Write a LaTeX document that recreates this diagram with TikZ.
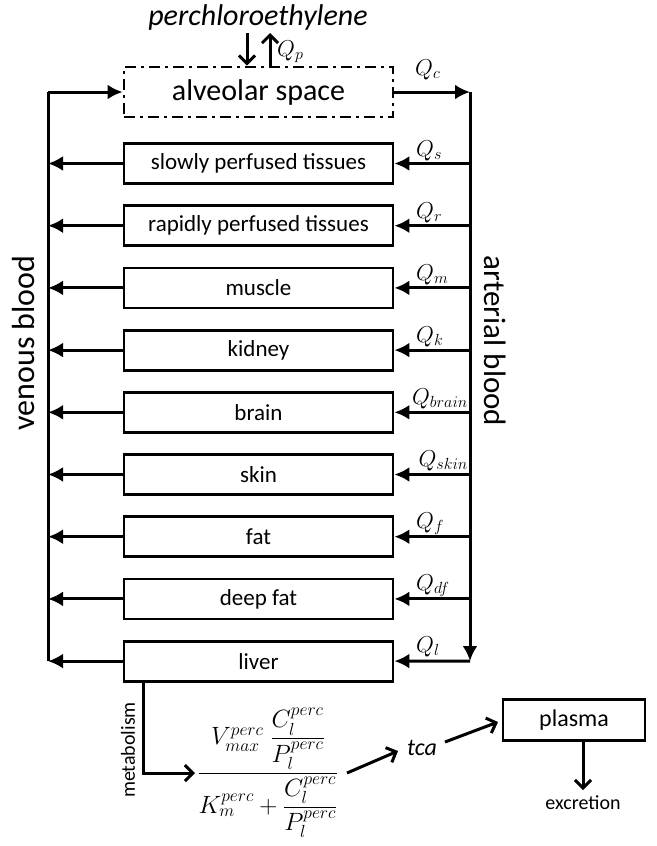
\RequirePackage{fix-cm}
\documentclass[tikz,border=0pt]{standalone}
\usepackage{amsmath}
\usepackage{fontspec}
\setmainfont{Carlito}
\usetikzlibrary{arrows.meta}
\begin{document}
\begin{tikzpicture}[x=1pt,y=-1pt,
  tissue/.style={draw, line width=2.8pt, minimum width=269pt, minimum height=40pt, inner sep=0pt, font=\fontsize{23}{26}\selectfont},
  flow/.style={line width=3pt, -{Latex[length=15pt,width=15pt]}},
  plain/.style={line width=3pt},
  openarr/.style={line width=3pt, -{Straight Barb[length=8pt,width=16pt,line width=3pt]}},
  qlab/.style={font=\fontsize{23}{25}\selectfont, anchor=base west, inner sep=0pt}]
\useasboundingbox (0,0) rectangle (656,846);

% alveolar space
\node[tissue, minimum height=50pt, dash pattern=on 11pt off 5pt on 3pt off 5pt, font=\fontsize{30}{34}\selectfont] (alv) at (258.5,92) {alveolar space};
\node[font=\fontsize{30}{34}\selectfont\itshape, inner sep=0pt] (perc) at (258,18) {perchloroethylene};
\coordinate (pin) at (247,33);
\coordinate (pout) at (270,33);
\draw[openarr] (pin) -- (pin |- alv.north);
\draw[openarr] (pout |- alv.north) -- (pout);
\node[qlab] (qp) at (277,56) {$Q_p$};

% blood lines
\coordinate (vtop) at (48,92);
\coordinate (vbot) at (48,661);
\coordinate (atop) at (470,92);
\coordinate (abot) at (470,661);
\draw[plain] (vbot) -- (vtop);
\draw[flow] (vtop) -- (alv.west);
\draw[flow] (alv.east) -- (atop);
\draw[flow] (atop) -- (abot);
\node[qlab] (qc) at (415,75) {$Q_c$};

\node[rotate=90, font=\fontsize{32}{36}\selectfont, inner sep=0pt] (ven) at (24,343) {venous blood};
\node[rotate=-90, font=\fontsize{31}{36}\selectfont, inner sep=0pt] (art) at (495,341) {arterial blood};

% tissues
\foreach \nm/\txt/\i in {slow/slowly perfused tissues/0, rapid/rapidly perfused tissues/1, muscle/muscle/2, kidney/kidney/3, brain/brain/4, skin/skin/5, fat/fat/6, deepfat/deep fat/7, liver/liver/8}{
  \node[tissue] (\nm) at (258.5,163.5+62.2*\i) {\txt};
  \draw[flow] (\nm.west) -- (\nm.west -| vtop);
}
\foreach \nm in {slow,rapid,muscle,kidney,brain,skin,fat,deepfat}{
  \draw[flow] (\nm.east -| atop) -- (\nm.east);
}
\draw[flow] (abot) -- (liver.east);

\node[qlab] (qs) at (416,156) {$Q_s$};
\node[qlab] (qr) at (416,218) {$Q_r$};
\node[qlab] (qm) at (416,280) {$Q_m$};
\node[qlab] (qk) at (416,342) {$Q_k$};
\node[qlab, anchor=base east] (qb) at (468,404) {$Q_{brain}$};
\node[qlab, anchor=base east] (qsk) at (468,466) {$Q_{skin}$};
\node[qlab] (qf) at (416,528) {$Q_f$};
\node[qlab] (qdf) at (416,590) {$Q_{df}$};
\node[qlab] (ql) at (416,652) {$Q_l$};

% metabolism
\coordinate (mstart) at (143,0);
\node[font=\fontsize{25}{28}\selectfont, inner sep=0pt] (frac) at (268,773)
  {$\dfrac{V_{max}^{perc}\;\dfrac{C_l^{perc}}{P_l^{perc}}}{K_m^{perc}+\dfrac{C_l^{perc}}{P_l^{perc}}}$};
\coordinate (mcorner) at (143,773);
\coordinate (mend) at (195,773);
\draw[openarr] (mstart |- liver.south) -- (mcorner) -- (mend);
\node[rotate=90, font=\fontsize{20}{24}\selectfont, inner sep=0pt] (metab) at (128,750) {metabolism};

\node[font=\fontsize{24}{28}\selectfont\itshape, inner sep=0pt] (tca) at (422,748) {tca};
\coordinate (t1) at (347,773);
\coordinate (t2) at (398,751);
\coordinate (t3) at (445,742);
\coordinate (t4) at (498,722);
\draw[openarr] (t1) -- (t2);
\node[draw, line width=2.8pt, minimum width=142pt, minimum height=41pt, inner sep=0pt, font=\fontsize{24}{28}\selectfont] (plasma) at (574,720) {plasma};
\draw[openarr] (t3) -- (t4);
\coordinate (xs) at (583,0);
\node[font=\fontsize{20}{24}\selectfont, inner sep=0pt] (exc) at (583,803) {excretion};
\draw[openarr] (xs |- plasma.south) -- (583,790);
\end{tikzpicture}
\end{document}
